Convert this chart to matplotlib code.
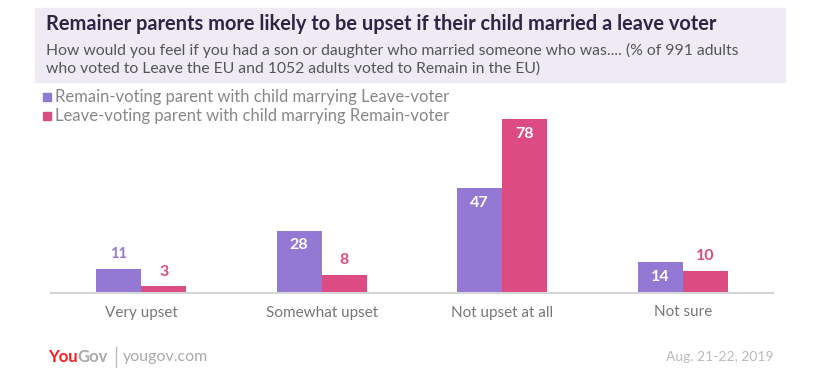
import matplotlib
matplotlib.use("Agg")
import matplotlib.pyplot as plt
from matplotlib.patches import Rectangle
import numpy as np

plt.rcParams['font.family'] = ['Lato', 'DejaVu Sans']

categories = ['Very upset', 'Somewhat upset', 'Not upset at all', 'Not sure']
remain_parent = [11, 28, 47, 14]
leave_parent = [3, 8, 78, 10]
series_names = ['Remain-voting parent with child marrying Leave-voter',
                'Leave-voting parent with child marrying Remain-voter']

purple = '#9378d4'
pink = '#dc4b81'
W, H = 816, 377

fig = plt.figure(figsize=(W / 100, H / 100), dpi=100)

def fx(px):
    return px / W

def fy(py):
    return 1 - py / H

# header box
fig.patches.append(Rectangle((fx(35), fy(82)), fx(785) - fx(35), fy(8) - fy(82),
                             transform=fig.transFigure, color='#eeebf5', zorder=0))
fig.text(fx(46), fy(24), 'Remainer parents more likely to be upset if their child married a leave voter',
         fontsize=14.4, fontweight='bold', color='#2e2545', va='center', ha='left')
fig.text(fx(46), fy(50), 'How would you feel if you had a son or daughter who married someone who was.... (% of 991 adults',
         fontsize=11.3, color='#555555', va='center', ha='left')
fig.text(fx(46), fy(69), 'who voted to Leave the EU and 1052 adults voted to Remain in the EU)',
         fontsize=11.3, color='#555555', va='center', ha='left')

# legend
for i, (name, col) in enumerate(zip(series_names, [purple, pink])):
    yc = 97 + i * 19
    fig.patches.append(Rectangle((fx(43), fy(yc + 4)), fx(8), fy(0) - fy(8),
                                 transform=fig.transFigure, color=col))
    fig.text(fx(55), fy(yc), name, fontsize=12, color='#888888', va='center', ha='left')

# chart
ax = fig.add_axes([fx(51), fy(293), fx(773) - fx(51), fy(115) - fy(293)])
x = np.arange(len(categories))
bw = 0.25
ax.bar(x - bw / 2, remain_parent, bw, color=purple)
ax.bar(x + bw / 2, leave_parent, bw, color=pink)
ax.set_xlim(-0.5, 3.5)
ax.set_ylim(0, 80)

for i, (a, b) in enumerate(zip(remain_parent, leave_parent)):
    for v, off, col in [(a, -bw / 2, purple), (b, bw / 2, pink)]:
        if v >= 14:
            ax.text(i + off, v - 3.5, str(v), ha='center', va='top', color='white',
                    fontsize=11.5, fontweight='bold')
        else:
            ax.text(i + off, v + 3.5, str(v), ha='center', va='bottom', color=col,
                    fontsize=11.5 if v != 11 else 10.5, fontweight='bold')

for s in ['top', 'right', 'left']:
    ax.spines[s].set_visible(False)
ax.spines['bottom'].set_color('#d6d6d6')
ax.spines['bottom'].set_linewidth(1.5)
ax.set_yticks([])
ax.set_xticks(x)
ax.set_xticklabels(categories, fontsize=11, color='#777777')
ax.tick_params(axis='x', length=0, pad=9)

# footer
you = fig.text(fx(48), fy(357), 'You', fontsize=12, fontweight='bold', color='#ff1a1a',
               va='center', ha='left')
fig.canvas.draw()
ext = you.get_window_extent()
fig.text(ext.x1 / W, fy(357), 'Gov', fontsize=12, fontweight='bold', color='#aaaaaa',
         va='center', ha='left')
fig.lines.append(plt.Line2D([fx(116), fx(116)], [fy(347), fy(367)], transform=fig.transFigure,
                            color='#bbbbbb', linewidth=1))
fig.text(fx(123), fy(357), 'yougov.com', fontsize=11.5, color='#aaaaaa', va='center', ha='left')
fig.text(fx(774), fy(357), 'Aug. 21-22, 2019', fontsize=10, color='#bbbbbb', va='center', ha='right')

fig.savefig('out.png', dpi=100)
